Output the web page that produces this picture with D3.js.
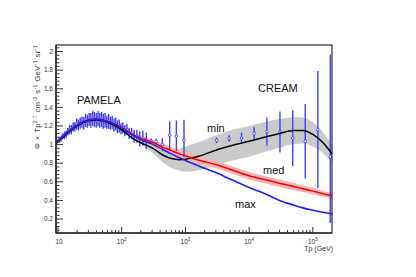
<!DOCTYPE html>
<html>
<head>
<meta charset="utf-8">
<script src="https://cdn.jsdelivr.net/npm/d3@7"></script>
<style>
  body { margin: 0; background: #fff; }
  svg { display: block; font-family: "Liberation Sans", Arial, sans-serif; }
</style>
</head>
<body>
<svg id="chart" width="416" height="277"></svg>
<script>
// model curves, sampled at these energies (GeV)
const energyNodes = [9.3, 12, 15, 20, 25, 30, 40, 50, 70, 100, 150, 200, 300, 450, 600, 800, 1000, 1500, 2000, 3000, 5000, 1e4, 2e4, 3e4, 5e4, 7e4, 1e5, 1.5e5, 2e5];
const maxCurve = [1.02, 1.09, 1.15, 1.21, 1.245, 1.265, 1.275, 1.265, 1.235, 1.18, 1.1, 1.055, 1.005, 0.945, 0.9, 0.86, 0.83, 0.78, 0.745, 0.70, 0.63, 0.54, 0.455, 0.40, 0.35, 0.32, 0.295, 0.27, 0.255];
const medCurve = [1.02, 1.09, 1.15, 1.21, 1.245, 1.265, 1.275, 1.265, 1.235, 1.185, 1.11, 1.07, 1.025, 0.97, 0.935, 0.9, 0.88, 0.84, 0.815, 0.785, 0.735, 0.665, 0.615, 0.585, 0.55, 0.525, 0.5, 0.47, 0.45];
const minCurve = [1.01, 1.08, 1.14, 1.2, 1.235, 1.255, 1.265, 1.255, 1.22, 1.16, 1.065, 1.02, 0.965, 0.885, 0.85, 0.838, 0.842, 0.87, 0.895, 0.94, 0.985, 1.035, 1.09, 1.12, 1.15, 1.152, 1.11, 1.01, 0.9];
// uncertainty half widths of the bands
const minBand = [0, 0, 0, 0, 0, 0, 0, 0, 0, 0, 0.005, 0.02, 0.05, 0.08, 0.1, 0.12, 0.135, 0.15, 0.155, 0.16, 0.165, 0.165, 0.16, 0.155, 0.145, 0.14, 0.13, 0.11, 0.1];
const medBand = [0, 0, 0, 0, 0, 0, 0, 0, 0, 0, 0.01, 0.02, 0.03, 0.035, 0.04, 0.04, 0.04, 0.04, 0.04, 0.04, 0.04, 0.04, 0.04, 0.04, 0.04, 0.035, 0.035, 0.03, 0.03];

// PAMELA data
const pamelaE = [10.4, 11.1, 11.8, 12.6, 13.4, 14.3, 15.2, 16.2, 17.3, 18.4, 19.6, 20.9, 22.3, 23.8, 25.4, 27.1, 28.9, 30.8, 32.8, 35, 37.3, 39.8, 42.4, 45.2, 48.2, 51.4, 54.8, 58.4, 62.3, 66.4, 70.8, 75.5, 80.5, 85.8, 91.5, 97.6, 104, 112, 121, 131, 143, 157, 173, 192, 215, 243, 291, 348, 434];
const pamelaV = [1.05, 1.06, 1.09, 1.10, 1.11, 1.14, 1.16, 1.16, 1.19, 1.19, 1.22, 1.21, 1.23, 1.24, 1.23, 1.26, 1.25, 1.27, 1.26, 1.28, 1.27, 1.26, 1.28, 1.26, 1.27, 1.25, 1.26, 1.24, 1.25, 1.23, 1.24, 1.21, 1.22, 1.19, 1.20, 1.17, 1.18, 1.15, 1.16, 1.12, 1.12, 1.09, 1.09, 1.06, 1.07, 1.04, 1.035, 1.035, 1.0];
const pamelaErr = [0.03, 0.03, 0.03, 0.04, 0.04, 0.04, 0.05, 0.05, 0.05, 0.05, 0.06, 0.06, 0.06, 0.06, 0.07, 0.07, 0.07, 0.07, 0.08, 0.08, 0.08, 0.08, 0.08, 0.08, 0.08, 0.08, 0.08, 0.07, 0.08, 0.07, 0.07, 0.07, 0.07, 0.07, 0.07, 0.06, 0.06, 0.06, 0.06, 0.06, 0.06, 0.07, 0.07, 0.08, 0.08, 0.09, 0.03, 0.03, 0.07];

// high energy / CREAM data
const creamE = [566, 721, 950, 3080, 4860, 7600, 12000, 19000, 30500, 48400, 76000, 120000, 188000];
const creamV = [1.1, 1.09, 1.046, 1.046, 1.065, 1.07, 1.12, 1.14, 1.136, 1.07, 1.035, 1.16, 0.868];
const creamLo = [0.15, 0.16, 0.18, 0.03, 0.035, 0.06, 0.07, 0.15, 0.22, 0.3, 0.4, 0.63, 0.71];
const creamHi = [0.15, 0.17, 0.22, 0.03, 0.035, 0.06, 0.07, 0.15, 0.22, 0.3, 0.4, 0.63, 1.1];

const yTicks = [0.2, 0.4, 0.6, 0.8, 1, 1.2, 1.4, 1.6, 1.8, 2];
const xTicks = [10, 1e2, 1e3, 1e4, 1e5];

const svg = d3.select("#chart");
const L = 56, R = 332, T = 45, B = 233;

const x = d3.scaleLog().domain([9.3, 2e5]).range([L, R]);
const y = d3.scaleLinear().domain([0.05, 2.07]).range([B, T]);

const blue = "#2020f0", barBlue = "#4040ff";

// bands
const bandArea = (c, w) => d3.area()
    .x((d, i) => x(energyNodes[i]))
    .y0((d, i) => y(c[i] - w[i]))
    .y1((d, i) => y(c[i] + w[i]))
    .curve(d3.curveMonotoneX);

svg.append("path").datum(minCurve)
    .attr("d", bandArea(minCurve, minBand))
    .attr("fill", "#cacaca");
svg.append("path").datum(medCurve)
    .attr("d", bandArea(medCurve, medBand))
    .attr("fill", "#f6b4b4");

// data points
const points = pamelaE.map((e, i) => ({e, v: pamelaV[i], lo: pamelaErr[i], hi: pamelaErr[i]}))
    .concat(creamE.map((e, i) => ({e, v: creamV[i], lo: creamLo[i], hi: creamHi[i]})));

const pg = svg.append("g");
pg.selectAll("line").data(points).enter().append("line")
    .attr("x1", d => x(d.e)).attr("x2", d => x(d.e))
    .attr("y1", d => y(d.v - d.lo)).attr("y2", d => y(d.v + d.hi))
    .attr("stroke", barBlue).attr("stroke-width", 1.4);
pg.selectAll("circle").data(points).enter().append("circle")
    .attr("cx", d => x(d.e)).attr("cy", d => y(d.v))
    .attr("r", 1.3)
    .attr("fill", "white").attr("stroke", barBlue).attr("stroke-width", 0.9);

// curves
const line = d3.line()
    .x((d, i) => x(energyNodes[i]))
    .y(d => y(d))
    .curve(d3.curveMonotoneX);

svg.append("path").datum(minCurve).attr("d", line)
    .attr("fill", "none").attr("stroke", "#000").attr("stroke-width", 1.5);
svg.append("path").datum(medCurve).attr("d", line)
    .attr("fill", "none").attr("stroke", "#ff0000").attr("stroke-width", 1.5);
svg.append("path").datum(maxCurve).attr("d", line)
    .attr("fill", "none").attr("stroke", blue).attr("stroke-width", 1.6);

// frame
svg.append("rect").attr("x", L).attr("y", T).attr("width", R - L).attr("height", B - T)
    .attr("fill", "none").attr("stroke", "#000").attr("stroke-width", 1);

// y axis
const ya = svg.append("g");
ya.append("line").attr("x1", L).attr("x2", L).attr("y1", T).attr("y2", B)
    .attr("stroke", "#333").attr("stroke-width", 1.6);
const yMinor = d3.range(0.08, 2.07, 0.04).filter(v => yTicks.every(t => Math.abs(t - v) > 0.001));
ya.selectAll(".minor").data(yMinor).enter().append("line")
    .attr("x1", L).attr("x2", L + 3.5).attr("y1", d => y(d)).attr("y2", d => y(d))
    .attr("stroke", "#333").attr("stroke-width", 1);
ya.selectAll(".major").data(yTicks).enter().append("line")
    .attr("x1", L).attr("x2", L + 7).attr("y1", d => y(d)).attr("y2", d => y(d))
    .attr("stroke", "#333").attr("stroke-width", 1);
ya.selectAll("text").data(yTicks).enter().append("text")
    .attr("x", L - 3).attr("y", d => y(d) + 2.3)
    .attr("text-anchor", "end").attr("font-size", 6.5).attr("fill", "#333")
    .text(d => d3.format("~g")(d));

// x axis
const xa = svg.append("g");
xa.append("line").attr("x1", L).attr("x2", R).attr("y1", B).attr("y2", B)
    .attr("stroke", "#333").attr("stroke-width", 1.6);
const xMinor = [];
[1, 10, 100, 1000, 10000, 100000].forEach(dec => {
  for (let k = 2; k <= 9; k++) {
    const v = dec * k;
    if (v > 9.3 && v < 2e5) xMinor.push(v);
  }
});
xa.selectAll(".minor").data(xMinor).enter().append("line")
    .attr("x1", d => x(d)).attr("x2", d => x(d)).attr("y1", B).attr("y2", B - 3)
    .attr("stroke", "#333").attr("stroke-width", 1);
xa.selectAll(".major").data(xTicks).enter().append("line")
    .attr("x1", d => x(d)).attr("x2", d => x(d)).attr("y1", B).attr("y2", B - 6)
    .attr("stroke", "#333").attr("stroke-width", 1);
const xl = xa.selectAll("text").data(xTicks).enter().append("text")
    .attr("x", d => x(d) + (d === 10 ? 1 : 0)).attr("y", B + 10.5)
    .attr("text-anchor", "middle").attr("font-size", 6.5).attr("fill", "#333");
xl.append("tspan").text("10");
xl.filter(d => d > 10).append("tspan").attr("dy", -2.5).attr("font-size", 4.5)
    .text(d => Math.round(Math.log10(d)));

// axis titles
svg.append("text").attr("x", R + 1).attr("y", B + 17.5)
    .attr("text-anchor", "end").attr("font-size", 7).attr("fill", "#333")
    .text("Tp (GeV)");

const yt = svg.append("text")
    .attr("transform", `translate(40,${T}) rotate(-90)`)
    .attr("text-anchor", "end").attr("font-size", 7.5).attr("fill", "#333")
    .attr("letter-spacing", 0.4);
const sup = (t, s) => {
  yt.append("tspan").text(t);
  if (s) yt.append("tspan").attr("dy", -2.8).attr("font-size", 5.2).text(s);
  if (s) yt.append("tspan").attr("dy", 2.8).text(" ");
};
sup("Φ × Tp", "2.7");
sup("cm", "-2");
sup("s", "-1");
sup("GeV", "-1");
sup("sr", "-1");

// labels
const labels = [
  {t: "PAMELA", x: 77, y: 104},
  {t: "CREAM", x: 258, y: 92},
  {t: "min", x: 207, y: 132},
  {t: "med", x: 263, y: 174},
  {t: "max", x: 235, y: 208}
];
svg.selectAll(".lab").data(labels).enter().append("text")
    .attr("x", d => d.x).attr("y", d => d.y)
    .attr("font-size", 11).attr("fill", "#111")
    .text(d => d.t);
</script>
</body>
</html>
